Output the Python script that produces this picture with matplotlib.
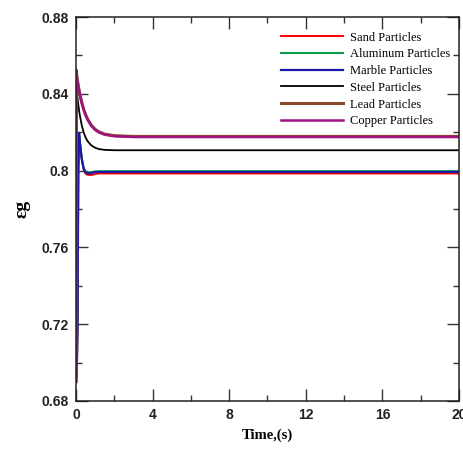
import matplotlib
matplotlib.use("Agg")
import matplotlib.pyplot as plt
from matplotlib.ticker import MultipleLocator

time_s = [0, 0.02, 0.05, 0.08, 0.12, 0.16, 0.2, 0.3, 0.4, 0.5, 0.6, 0.8,
          1.0, 1.2, 1.5, 2, 3, 5, 10, 15, 20]

sand = [0.69, 0.693, 0.70, 0.72, 0.80, 0.819, 0.8150, 0.8060, 0.8005, 0.7984, 0.7978, 0.7977,
        0.7982, 0.7985, 0.7985, 0.7985, 0.7985, 0.7985, 0.7985, 0.7985, 0.7985]
aluminum = [0.69, 0.693, 0.70, 0.72, 0.80, 0.819, 0.8155, 0.8065, 0.8015, 0.7995, 0.7990, 0.7992,
            0.7996, 0.7997, 0.7997, 0.7997, 0.7997, 0.7997, 0.7997, 0.7997, 0.7997]
marble = [0.69, 0.693, 0.70, 0.72, 0.80, 0.8195, 0.8150, 0.8060, 0.8010, 0.7990, 0.7985, 0.7988,
          0.7992, 0.7993, 0.7993, 0.7993, 0.7993, 0.7993, 0.7993, 0.7993, 0.7993]
steel = [0.69, 0.846, 0.8406, 0.8377, 0.8343, 0.8314, 0.8288, 0.8236, 0.8199, 0.8173, 0.8154, 0.8131,
         0.8119, 0.8112, 0.8108, 0.8106, 0.8106, 0.8106, 0.8106, 0.8106, 0.8106]
lead = [0.69, 0.8523, 0.8487, 0.8467, 0.8442, 0.8420, 0.8399, 0.8355, 0.8320, 0.8292, 0.8269, 0.8236,
        0.8215, 0.8202, 0.8190, 0.8182, 0.8178, 0.8178, 0.8178, 0.8178, 0.8178]
copper = [0.69, 0.8520, 0.8484, 0.8464, 0.8439, 0.8417, 0.8396, 0.8352, 0.8317, 0.8289, 0.8266, 0.8233,
          0.8212, 0.8199, 0.8187, 0.8179, 0.8175, 0.8175, 0.8175, 0.8175, 0.8175]

labels = ["Sand Particles", "Aluminum Particles", "Marble Particles",
          "Steel Particles", "Lead Particles", "Copper Particles"]
series = [sand, aluminum, marble, steel, lead, copper]
colors = ["#ff0000", "#009a44", "#1a1aa6", "#000000", "#8b4a2b", "#a0127f"]
widths = [1.4, 1.4, 1.6, 1.3, 2.2, 1.8]

fig = plt.figure(figsize=(4.64, 4.51), dpi=100)
ax = fig.add_axes([0.1638, 0.1109, 0.9892 - 0.1638, 0.9623 - 0.1109])

for y, c, lab, lw in zip(series, colors, labels, widths):
    ax.plot(time_s, y, color=c, lw=lw, label=lab)

ax.set_xlim(0, 20)
ax.set_ylim(0.68, 0.88)
ax.xaxis.set_minor_locator(MultipleLocator(2))
ax.yaxis.set_minor_locator(MultipleLocator(0.02))
ax.set_xticks([0, 4, 8, 12, 16, 20])
ax.set_xticklabels(["0", "4", "8", "12", "16", "20"])
ax.set_yticks([0.68, 0.72, 0.76, 0.8, 0.84, 0.88])
ax.set_yticklabels(["0.68", "0.72", "0.76", "0.8", "0.84", "0.88"])

ax.tick_params(which="both", direction="in", top=True, right=True, width=1, color="#333333")
ax.tick_params(which="major", length=8.6)
ax.tick_params(which="minor", length=4.3)
ax.tick_params(axis="y", pad=5)
ax.tick_params(axis="x", pad=5)
for lab in ax.get_xticklabels() + ax.get_yticklabels():
    lab.set_fontfamily("Liberation Sans")
    lab.set_fontweight("bold")
    lab.set_fontsize(10)
    lab.set_color("#222222")
for sp in ax.spines.values():
    sp.set_linewidth(1.1)
    sp.set_color("#222222")

ax.set_xlabel("Time,(s)", family="Liberation Serif", fontweight="bold", fontsize=10.5, labelpad=5)
ax.set_ylabel("εg", family="Liberation Serif", fontweight="bold", fontsize=14, labelpad=8)

leg = ax.legend(loc="upper right", frameon=False, prop={"family": "Liberation Serif", "size": 9},
                handlelength=5.0, handletextpad=0.55, labelspacing=0.38,
                borderaxespad=0.0, bbox_to_anchor=(0.99, 0.975))

fig.savefig("out.png", dpi=100)
